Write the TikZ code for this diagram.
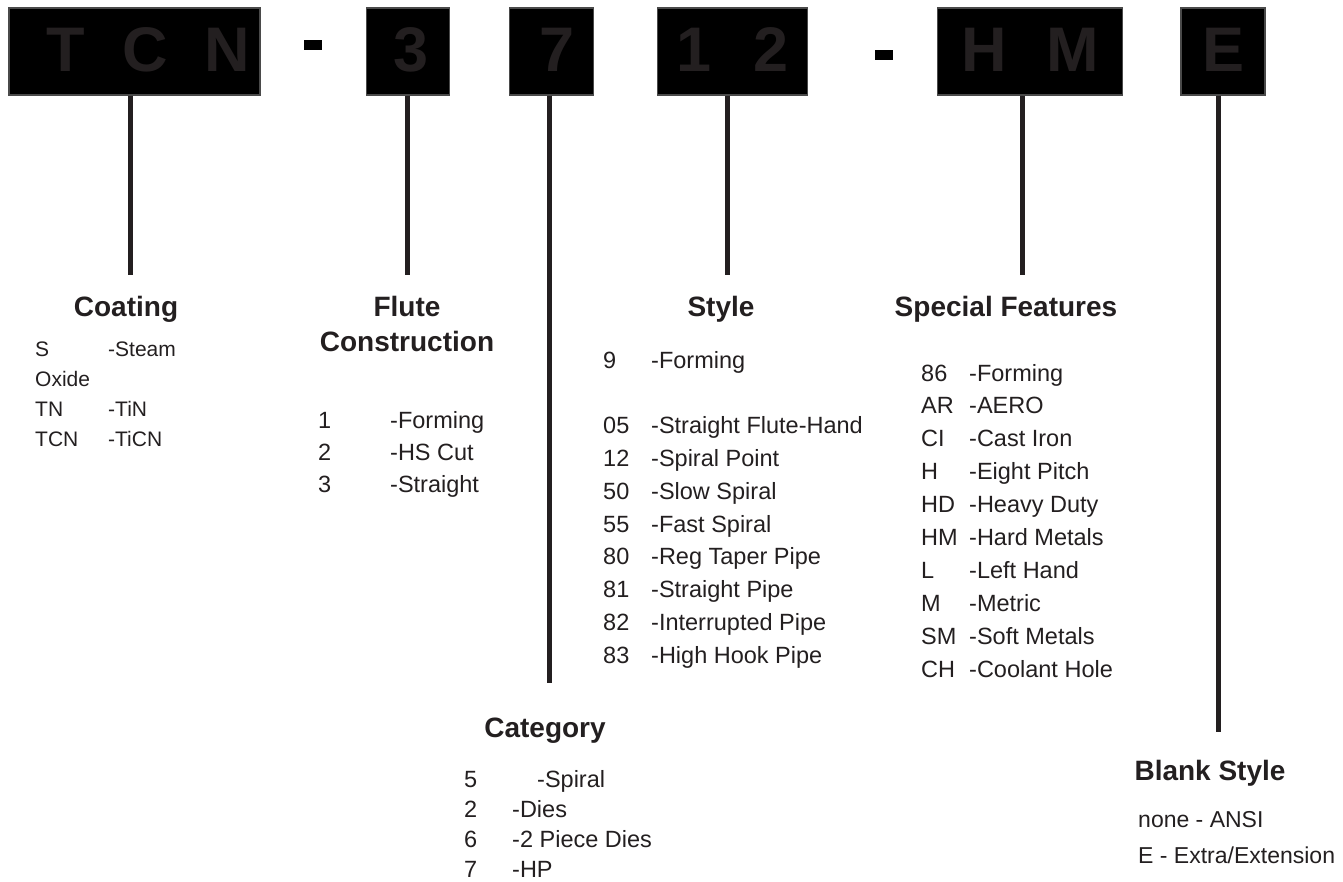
\documentclass[tikz,border=0pt]{standalone}
\usepackage{fontspec}
\setmainfont{Liberation Sans}
\usetikzlibrary{positioning}
\definecolor{ink}{HTML}{231F20}
\definecolor{boxline}{HTML}{4A4A4A}

\begin{document}
\begin{tikzpicture}[x=1pt,y=-1pt,
codebox/.style={draw=boxline,line width=1.2pt,fill=black,text=ink,minimum height=87pt,inner sep=0pt,text height=41pt,text depth=0pt,font=\fontsize{63}{63}\selectfont\bfseries},
dashbar/.style={fill=black,minimum width=18pt,minimum height=10pt,inner sep=0pt},
stem/.style={draw=ink,line width=5pt},
head/.style={anchor=base,text=ink,align=center,inner sep=0pt,font=\fontsize{28}{35}\selectfont\bfseries},
list/.style={anchor=base west,text=ink,inner sep=0pt}]
\useasboundingbox (0,0) rectangle (1343,882);
% part number boxes
\node[codebox,minimum width=251pt](tcn) at (134.5,51.5){\hspace{28pt}T\hspace{37pt}C\hspace{37pt}N};
\node[codebox,minimum width=83pt,right=105pt of tcn](flute){\hspace{7pt}3};
\node[codebox,minimum width=84pt,right=59pt of flute](cat){\hspace{12pt}7};
\node[codebox,minimum width=150pt,right=63pt of cat](style){1\hspace{42pt}2};
\node[codebox,minimum width=185pt,right=129pt of style](spec){H\hspace{39pt}M\hspace{24pt}};
\node[codebox,minimum width=84pt,right=57pt of spec](blank){E};
\node[dashbar](dashone) at (313,45){};
\node[dashbar](dashtwo) at (884,55){};
% stems
\coordinate(coatend) at (130,275);
\coordinate(fluteend) at (407,275);
\coordinate(catend) at (549,683);
\coordinate(styleend) at (727,275);
\coordinate(specend) at (1022,275);
\coordinate(blankend) at (1218,732);
\draw[stem](tcn.south -| coatend)--(coatend);
\draw[stem](flute.south -| fluteend)--(fluteend);
\draw[stem](cat.south -| catend)--(catend);
\draw[stem](style.south -| styleend)--(styleend);
\draw[stem](spec.south -| specend)--(specend);
\draw[stem](blank.south -| blankend)--(blankend);
% headings
\node[head](coathead) at (126,317){Coating};
\node[head](flutehead) at (407,352){Flute\\Construction};
\node[head](stylehead) at (721,317){Style};
\node[head](spechead) at (1006,317){Special Features};
\node[head](cathead) at (545,737){Category};
\node[head](blankhead) at (1210,780){Blank Style};
% lists
\node[list,font=\fontsize{21}{30.3}\selectfont](coatlist) at (35,356){\begin{tabular}[t]{@{}p{73pt}@{}l@{}}
S&-Steam\\ Oxide&\\ TN&-TiN\\ TCN&-TiCN\end{tabular}};
\node[list,font=\fontsize{23.5}{32}\selectfont](flutelist) at (318,428){\begin{tabular}[t]{@{}p{72pt}@{}l@{}}
1&-Forming\\ 2&-HS Cut\\ 3&-Straight\end{tabular}};
\node[list,font=\fontsize{23.5}{32.8}\selectfont](stylelist) at (603,368){\begin{tabular}[t]{@{}p{48pt}@{}l@{}}
9&-Forming\\ &\\ 05&-Straight Flute-Hand\\ 12&-Spiral Point\\ 50&-Slow Spiral\\ 55&-Fast Spiral\\
80&-Reg Taper Pipe\\ 81&-Straight Pipe\\ 82&-Interrupted Pipe\\ 83&-High Hook Pipe\end{tabular}};
\node[list,font=\fontsize{23.5}{32.9}\selectfont](speclist) at (921,381){\begin{tabular}[t]{@{}p{48pt}@{}l@{}}
86&-Forming\\ AR&-AERO\\ CI&-Cast Iron\\ H&-Eight Pitch\\ HD&-Heavy Duty\\
HM&-Hard Metals\\ L&-Left Hand\\ M&-Metric\\ SM&-Soft Metals\\ CH&-Coolant Hole\end{tabular}};
\node[list,font=\fontsize{23.5}{30.3}\selectfont](catlist) at (464,787){\begin{tabular}[t]{@{}p{48pt}@{}l@{}}
5&\hspace{25pt}-Spiral\\ 2&-Dies\\ 6&-2 Piece Dies\\ 7&-HP\end{tabular}};
\node[list,font=\fontsize{23}{36}\selectfont](blanklist) at (1138,827){\begin{tabular}[t]{@{}l@{}}
none - ANSI\\ E - Extra/Extension\end{tabular}};
\end{tikzpicture}
\end{document}
